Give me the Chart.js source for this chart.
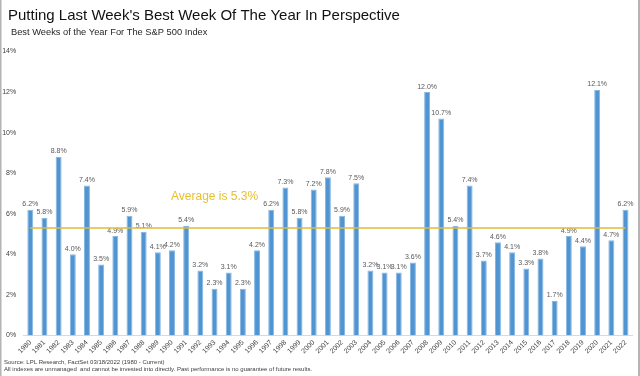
<!DOCTYPE html>
<html lang="en">
<head>
  <meta charset="UTF-8">
  <title>Best Weeks of the Year For The S&P 500 Index</title>
  <script src="https://cdn.jsdelivr.net/npm/chart.js"></script>
  <style>
    html, body { margin: 0; padding: 0; background: #fff; }
    .chart-wrapper { position: relative; width: 640px; height: 376px; }
  </style>
</head>
<body>
  <div class="chart-wrapper"><canvas id="barChart"></canvas></div>
  <script>
    const years = ['1980','1981','1982','1983','1984','1985','1986','1987','1988','1989',
      '1990','1991','1992','1993','1994','1995','1996','1997','1998','1999',
      '2000','2001','2002','2003','2004','2005','2006','2007','2008','2009',
      '2010','2011','2012','2013','2014','2015','2016','2017','2018','2019',
      '2020','2021','2022'];
    const bestWeek = [6.2, 5.8, 8.8, 4.0, 7.4, 3.5, 4.9, 5.9, 5.1, 4.1,
      4.2, 5.4, 3.2, 2.3, 3.1, 2.3, 4.2, 6.2, 7.3, 5.8,
      7.2, 7.8, 5.9, 7.5, 3.2, 3.1, 3.1, 3.6, 12.0, 10.7,
      5.4, 7.4, 3.7, 4.6, 4.1, 3.3, 3.8, 1.7, 4.9, 4.4,
      12.1, 4.7, 6.2];
    const average = 5.3;
    const yTicks = [0, 2, 4, 6, 8, 10, 12, 14];

    const FONT = '"Liberation Sans", Arial, sans-serif';

    // titles, data labels, average line, footnotes
    const extras = {
      id: 'extras',
      afterDatasetsDraw(chart) {
        const { ctx, scales: { x, y } } = chart;
        const meta = chart.getDatasetMeta(0);
        ctx.save();
        ctx.font = '7px ' + FONT;
        ctx.fillStyle = '#595959';
        ctx.textAlign = 'center';
        ctx.textBaseline = 'bottom';
        meta.data.forEach((bar, i) => {
          ctx.fillText(bestWeek[i].toFixed(1) + '%', bar.x, bar.y - 2);
        });

        // average line
        const ay = y.getPixelForValue(average);
        ctx.strokeStyle = '#E0BA3C';
        ctx.lineWidth = 1.6;
        ctx.beginPath();
        ctx.moveTo(x.getPixelForValue(0), ay);
        ctx.lineTo(x.getPixelForValue(years.length - 1), ay);
        ctx.stroke();

        ctx.font = '12px ' + FONT;
        ctx.fillStyle = '#E6C033';
        ctx.textAlign = 'left';
        ctx.textBaseline = 'middle';
        ctx.fillText('Average is ' + average.toFixed(1) + '%', x.getPixelForValue(10) - 1, ay - 31);
        ctx.restore();
      },
      afterDraw(chart) {
        const { ctx } = chart;
        ctx.save();
        ctx.textAlign = 'left';
        ctx.textBaseline = 'alphabetic';
        ctx.fillStyle = '#111';
        ctx.font = '15px ' + FONT;
        ctx.fillText("Putting Last Week's Best Week Of The Year In Perspective", 8, 19.5);
        ctx.fillStyle = '#262626';
        ctx.font = '9.3px ' + FONT;
        ctx.fillText('Best Weeks of the Year For The S&P 500 Index', 11, 34.5);
        ctx.fillStyle = '#404040';
        ctx.font = '6px ' + FONT;
        ctx.fillText('Source: LPL Research, FactSet 03/18/2022 (1980 - Current)', 4, 364);
        ctx.fillText('All indexes are unmanaged  and cannot be invested into directly. Past performance is no guarantee of future results.', 4, 370.5);
        ctx.fillStyle = '#b4b4b4';
        ctx.fillRect(0, 0, 1.5, 376);
        ctx.fillRect(638, 0, 2, 376);
        ctx.restore();
      }
    };

    new Chart(document.getElementById('barChart').getContext('2d'), {
      type: 'bar',
      data: {
        labels: years,
        datasets: [{
          data: bestWeek,
          backgroundColor: '#5094D2',
          borderColor: '#86B7E3',
          borderWidth: 1,
          barPercentage: 0.42,
          categoryPercentage: 1
        }]
      },
      options: {
        responsive: true,
        maintainAspectRatio: false,
        animation: false,
        layout: { padding: { top: 51.5, right: 7.4, bottom: 0, left: 0 } },
        plugins: { legend: { display: false }, tooltip: { enabled: false } },
        scales: {
          x: {
            grid: { display: false, drawTicks: false },
            border: { display: true, color: '#d9d9d9', width: 1 },
            ticks: {
              font: { family: FONT, size: 7 },
              color: '#404040',
              minRotation: 45,
              maxRotation: 45,
              autoSkip: false,
              padding: 3
            },
            afterFit(scale) { scale.height = 40.5; }
          },
          y: {
            min: 0,
            max: 14,
            grid: { display: false, drawTicks: false },
            border: { display: false },
            afterBuildTicks(scale) { scale.ticks = yTicks.map(v => ({ value: v })); },
            ticks: {
              font: { family: FONT, size: 7 },
              color: '#404040',
              padding: 7,
              callback: v => v + '%'
            },
            afterFit(scale) { scale.width = 23.2; }
          }
        }
      },
      plugins: [extras]
    });
  </script>
</body>
</html>
